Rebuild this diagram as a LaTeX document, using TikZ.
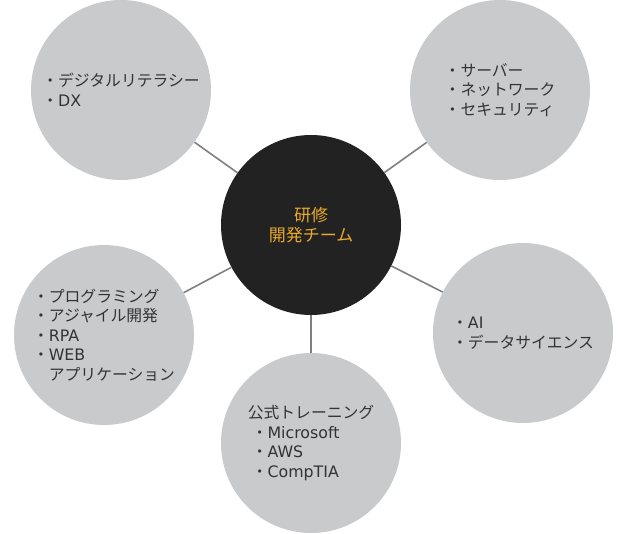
\documentclass[tikz,border=0pt]{standalone}
\usepackage{fontspec}
\setmainfont{Noto Sans CJK JP}
\newfontfamily\latinfont{DejaVu Sans}
\newcommand{\lat}[1]{{\latinfont #1}}
\definecolor{topicgray}{HTML}{C9CACC}
\definecolor{hubblack}{HTML}{222222}
\definecolor{huborange}{HTML}{E9A82B}
\definecolor{textgray}{HTML}{333333}
\definecolor{linkgray}{HTML}{7F7F7F}
\begin{document}
\begin{tikzpicture}[x=1pt, y=-1pt,
      topic/.style={circle, fill=topicgray, minimum size=180pt, inner sep=0pt, text=textgray, align=left, font=\fontsize{15.8}{19.5}\selectfont},
      hub/.style={circle, fill=hubblack, minimum size=180pt, inner sep=0pt, text=huborange, align=center, font=\fontsize{17}{20.5}\selectfont},
      link/.style={draw=linkgray, line width=1.6pt}
    ]
    \useasboundingbox (0,0) rectangle (639,534);
    \node[hub] (hub) at (311,225) {研修\\開発チーム};
    \foreach \name/\x/\y/\txt in {
        dx/121/90/{・デジタルリテラシー\\・\lat{DX}},
        infra/500/90/{・サーバー\\・ネットワーク\\・セキュリティ},
        dev/104/335/{・プログラミング\\・アジャイル開発\\・\lat{RPA}\\・\lat{WEB}\\\hspace*{1em}アプリケーション},
        ai/523/333/{・\lat{AI}\\・データサイエンス},
        cert/311/443/{公式トレーニング\\\hspace*{4pt}・\lat{Microsoft}\\\hspace*{4pt}・\lat{AWS}\\\hspace*{4pt}・\lat{CompTIA}}} {
      \node[topic] (\name) at (\x,\y) {\txt};
    }
    \foreach \name in {dx,infra,dev,ai,cert} {
      \draw[link] (hub) -- (\name);
    }
  \end{tikzpicture}
\end{document}
